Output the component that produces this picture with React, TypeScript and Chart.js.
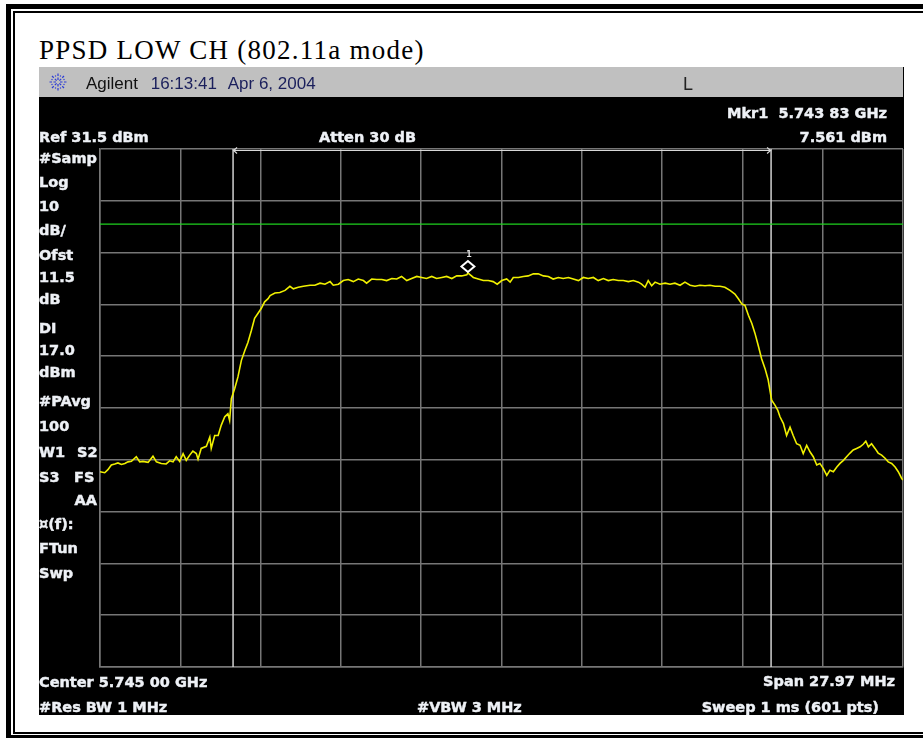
import React, { useEffect, useRef } from "react";
import { Chart, registerables } from "chart.js";

Chart.register(...registerables);

// Analyzer settings
const CENTER_GHZ = 5.745;
const SPAN_MHZ = 27.97;
const REF_LEVEL_DBM = 31.5;
const DB_PER_DIV = 10;
const DIVISIONS = 10;
const DISPLAY_LINE_DBM = 17.0;
const MARKER_GHZ = 5.74383;
const MARKER_LEVEL_DBM = 7.561;
const bandEdgesMHz = [-9.35, 9.39];

// Trace: offset from centre frequency (MHz) and level (dBm)
const freqOffsetMHz = [
  -13.985, -13.82, -13.71, -13.59, -13.47, -13.36, -13.24, -13.12, -13.01, -12.89,
  -12.72, -12.6, -12.49, -12.31, -12.14, -12.02, -11.85, -11.68, -11.56, -11.44,
  -11.33, -11.21, -11.09, -10.98, -10.86, -10.75, -10.63, -10.57, -10.46, -10.28,
  -10.16, -10.11, -9.99, -9.87, -9.76, -9.64, -9.53, -9.47, -9.41, -9.29,
  -9.18, -9.06, -8.94, -8.83, -8.71, -8.6, -8.48, -8.37, -8.25, -8.13,
  -8.06, -7.89, -7.72, -7.54, -7.37, -7.25, -7.08, -6.9, -6.67, -6.5,
  -6.32, -6.15, -5.97, -5.86, -5.68, -5.51, -5.34, -5.16, -4.99, -4.81,
  -4.7, -4.52, -4.35, -4.17, -4.0, -3.82, -3.65, -3.48, -3.3, -3.13,
  -2.95, -2.78, -2.61, -2.43, -2.26, -2.08, -1.91, -1.73, -1.56, -1.39,
  -1.21, -1.17, -0.98, -0.81, -0.63, -0.46, -0.29, -0.15, 0.01, 0.18,
  0.3, 0.41, 0.59, 0.76, 0.93, 1.11, 1.28, 1.46, 1.63, 1.8,
  1.98, 2.15, 2.33, 2.5, 2.68, 2.85, 3.02, 3.2, 3.37, 3.55,
  3.72, 3.89, 4.07, 4.24, 4.42, 4.59, 4.77, 4.88, 5.0, 5.11,
  5.23, 5.35, 5.52, 5.7, 5.87, 6.04, 6.22, 6.39, 6.57, 6.74,
  6.91, 7.09, 7.26, 7.44, 7.61, 7.78, 7.96, 8.13, 8.25, 8.37,
  8.48, 8.6, 8.72, 8.83, 8.94, 9.06, 9.18, 9.29, 9.35, 9.41,
  9.53, 9.62, 9.7, 9.82, 9.93, 10.05, 10.16, 10.28, 10.4, 10.51,
  10.63, 10.75, 10.86, 10.98, 11.09, 11.21, 11.33, 11.44, 11.56, 11.68,
  11.79, 11.91, 12.02, 12.14, 12.25, 12.37, 12.49, 12.6, 12.69, 12.78,
  12.89, 13.01, 13.12, 13.24, 13.36, 13.47, 13.59, 13.71, 13.82, 13.94,
  13.985,
];

const levelDbm = [
  -30.8, -31.0, -30.4, -29.5, -29.3, -29.1, -29.4, -29.2, -28.9, -28.8,
  -27.9, -28.9, -28.8, -29.0, -27.8, -28.9, -29.2, -29.3, -28.7, -28.9,
  -27.9, -28.8, -27.3, -28.6, -27.6, -26.8, -27.3, -28.4, -26.3, -25.9,
  -24.1, -26.3, -23.8, -23.8, -21.8, -20.2, -19.6, -20.9, -16.7, -14.7,
  -12.5, -9.3, -7.4, -5.8, -3.5, -1.2, -0.2, 0.7, 2.0, 2.6,
  3.2, 3.7, 3.8, 4.2, 5.0, 4.5, 4.8, 5.0, 5.2, 5.2,
  5.6, 5.4, 5.9, 5.2, 5.4, 6.1, 6.3, 5.9, 6.4, 6.1,
  5.6, 6.4, 6.3, 6.3, 6.1, 6.5, 6.4, 6.9, 6.1, 6.5,
  6.9, 6.7, 6.5, 6.9, 6.5, 6.7, 6.9, 6.5, 7.0, 7.0,
  7.2, 7.561, 6.7, 6.4, 6.1, 6.1, 5.9, 5.4, 6.1, 6.4,
  5.8, 6.7, 6.7, 6.9, 7.0, 7.4, 7.4, 7.0, 6.9, 6.4,
  6.7, 6.5, 6.7, 6.4, 6.1, 6.7, 6.5, 6.7, 6.1, 6.5,
  6.1, 6.3, 6.1, 6.1, 5.9, 6.1, 5.8, 5.4, 4.8, 6.1,
  5.1, 5.8, 5.4, 5.6, 5.4, 5.6, 5.2, 5.8, 5.2, 5.0,
  5.2, 5.1, 5.2, 5.0, 5.0, 4.8, 4.2, 3.5, 2.6, 1.6,
  1.3, -0.6, -2.2, -4.1, -6.4, -9.0, -10.9, -13.1, -15.1, -17.0,
  -18.0, -18.9, -20.2, -21.5, -23.8, -22.2, -23.8, -25.4, -25.7, -27.3,
  -25.7, -27.0, -27.9, -29.5, -29.2, -30.2, -31.5, -30.5, -30.8, -29.9,
  -29.2, -28.6, -27.9, -27.2, -26.6, -26.3, -26.0, -25.5, -24.9, -26.0,
  -25.4, -26.3, -27.2, -27.6, -28.2, -28.9, -29.2, -29.9, -30.8, -32.1,
  -32.4,
];

// Annotation texts
const title = "PPSD LOW CH (802.11a mode)";
const bannerBrand = "Agilent";
const bannerTime = "16:13:41";
const bannerDate = "Apr 6, 2004";
const bannerFlag = "L";
const markerLines = ["Mkr1  5.743 83 GHz", "7.561 dBm"];
const refLabel = "Ref 31.5 dBm";
const attenLabel = "Atten 30 dB";
const sideLabels = [
  "#Samp", "Log", "10", "dB/", "Ofst", "11.5", "dB", "DI", "17.0", "dBm",
  "#PAvg", "100", "W1", "S3", "¤(f):", "FTun", "Swp",
];
const sidePairs = ["S2", "FS", "AA"];
const footerLeft = ["Center 5.745 00 GHz", "#Res BW 1 MHz"];
const footerMid = "#VBW 3 MHz";
const footerRight = ["Span 27.97 MHz", "Sweep 1 ms (601 pts)"];

// Baselines (canvas px) for the left-hand annotation column
const sideBaselines = [
  95.7, 120, 144, 167.5, 193, 215, 237, 266, 288, 310,
  339, 363.7, 390, 414.7, 462, 486, 510.5,
];

const SCREEN_TEXT = "#eef1f6";
const SCREEN_FONT = 'bold 14.5px "DejaVu Sans"';
const GRID_COLOR = "#767676";

const half = SPAN_MHZ / 2;
const yMax = REF_LEVEL_DBM;
const yMin = REF_LEVEL_DBM - DB_PER_DIV * DIVISIONS;

function divisionTicks(min: number, max: number) {
  return Array.from({ length: DIVISIONS + 1 }, (_, i) => ({
    value: min + (i * (max - min)) / DIVISIONS,
  }));
}

// Bold screen lettering with a hairline outline to give it weight
function screenText(ctx: CanvasRenderingContext2D, text: string, x: number, y: number) {
  ctx.strokeText(text, x, y);
  ctx.fillText(text, x, y);
}

const screenPlugin = {
  id: "analyzerScreen",
  beforeDraw(chart: any) {
    const { ctx, width, height } = chart;
    ctx.save();
    ctx.fillStyle = "#000";
    ctx.fillRect(0, 0, width, height);
    // title bar
    ctx.fillStyle = "#c0c0c0";
    ctx.fillRect(0, 0, width - 1, 30);

    // spark logo
    const cx = 19;
    const cy = 15;
    ctx.strokeStyle = "#2b3bd6";
    ctx.fillStyle = "#2b3bd6";
    ctx.lineWidth = 1.2;
    for (let k = 0; k < 8; k++) {
      const a = (k * Math.PI) / 4;
      const c = Math.cos(a);
      const s = Math.sin(a);
      ctx.beginPath();
      ctx.moveTo(cx + c * 2, cy + s * 2);
      ctx.lineTo(cx + c * 4.5, cy + s * 4.5);
      ctx.moveTo(cx + c * 6, cy + s * 6);
      ctx.lineTo(cx + c * 8.5, cy + s * 8.5);
      ctx.stroke();
      const b = a + Math.PI / 8;
      ctx.fillRect(cx + Math.cos(b) * 6.5 - 0.6, cy + Math.sin(b) * 6.5 - 0.6, 1.2, 1.2);
    }

    ctx.textBaseline = "alphabetic";
    ctx.textAlign = "left";
    ctx.font = '17px "Liberation Sans"';
    ctx.fillStyle = "#111";
    ctx.fillText(bannerBrand, 47, 22.3);
    ctx.fillStyle = "#1a1f5c";
    ctx.fillText(bannerTime, 111.7, 22.3);
    ctx.fillText(bannerDate, 188.7, 22.3);
    ctx.fillStyle = "#222";
    ctx.font = '18px "Liberation Sans"';
    ctx.fillText(bannerFlag, 644, 23);
    ctx.restore();
  },
  afterDraw(chart: any) {
    const { ctx, chartArea, scales } = chart;
    const xs = scales.x;
    const ys = scales.y;
    ctx.save();

    // bandwidth arrow along the top graticule
    const xa = xs.getPixelForValue(bandEdgesMHz[0]);
    const xb = xs.getPixelForValue(bandEdgesMHz[1]);
    const ya = chartArea.top + 1.5;
    ctx.strokeStyle = "#d8d8d8";
    ctx.lineWidth = 1.2;
    ctx.beginPath();
    ctx.moveTo(xa, ya);
    ctx.lineTo(xb, ya);
    ctx.moveTo(xa + 4, ya - 3);
    ctx.lineTo(xa + 0.5, ya);
    ctx.lineTo(xa + 4, ya + 3);
    ctx.moveTo(xb - 4, ya - 3);
    ctx.lineTo(xb - 0.5, ya);
    ctx.lineTo(xb - 4, ya + 3);
    ctx.stroke();

    // marker 1
    const mx = xs.getPixelForValue((MARKER_GHZ - CENTER_GHZ) * 1000);
    const my = ys.getPixelForValue(MARKER_LEVEL_DBM);
    const dy = my - 6.5;
    ctx.beginPath();
    ctx.moveTo(mx, dy - 5.5);
    ctx.lineTo(mx + 6.5, dy);
    ctx.lineTo(mx, dy + 5.5);
    ctx.lineTo(mx - 6.5, dy);
    ctx.closePath();
    ctx.fillStyle = "#000";
    ctx.fill();
    ctx.strokeStyle = "#ffffff";
    ctx.lineWidth = 2;
    ctx.stroke();
    ctx.fillStyle = "#e8e8e8";
    ctx.font = 'bold 9px "DejaVu Sans Mono"';
    ctx.textAlign = "center";
    ctx.fillText("1", mx + 1, dy - 10);

    // screen annotations
    ctx.font = SCREEN_FONT;
    ctx.fillStyle = SCREEN_TEXT;
    ctx.strokeStyle = SCREEN_TEXT;
    ctx.lineWidth = 0.45;
    ctx.textAlign = "right";
    screenText(ctx, markerLines[0], 848, 51);
    screenText(ctx, markerLines[1], 848, 74.7);
    ctx.textAlign = "left";
    screenText(ctx, refLabel, 0, 74.7);
    screenText(ctx, attenLabel, 280, 74.7);

    sideLabels.forEach((t, i) => screenText(ctx, t, 0, sideBaselines[i]));
    screenText(ctx, sidePairs[0], 38, 390);
    screenText(ctx, sidePairs[1], 35, 414.7);
    ctx.textAlign = "right";
    screenText(ctx, sidePairs[2], 58, 438);

    ctx.textAlign = "left";
    screenText(ctx, footerLeft[0], 0, 619.7);
    screenText(ctx, footerLeft[1], 0, 644.5);
    screenText(ctx, footerMid, 378, 644.5);
    ctx.textAlign = "right";
    screenText(ctx, footerRight[0], 856, 619.2);
    screenText(ctx, footerRight[1], 840, 644.5);
    ctx.restore();
  },
};

function AnalyzerChart() {
  const ref = useRef<HTMLCanvasElement | null>(null);

  useEffect(() => {
    if (!ref.current) return;
    const trace = freqOffsetMHz.map((f, i) => ({ x: f, y: levelDbm[i] }));
    const chart = new Chart(ref.current, {
      type: "scatter",
      data: {
        datasets: [
          {
            data: trace,
            showLine: true,
            borderColor: "#f0f000",
            borderWidth: 1.6,
            pointRadius: 0,
            tension: 0,
          },
          {
            data: [
              { x: -half, y: DISPLAY_LINE_DBM },
              { x: half, y: DISPLAY_LINE_DBM },
            ],
            showLine: true,
            borderColor: "#1ed21e",
            borderWidth: 1.3,
            pointRadius: 0,
          },
          ...bandEdgesMHz.map((f) => ({
            data: [
              { x: f, y: yMin },
              { x: f, y: yMax },
            ],
            showLine: true,
            borderColor: "#d0d0d0",
            borderWidth: 1.5,
            pointRadius: 0,
          })),
        ],
      },
      options: {
        animation: false,
        responsive: false,
        devicePixelRatio: 1,
        events: [],
        layout: { padding: { left: 61, right: 1, top: 82, bottom: 48 } },
        plugins: { legend: { display: false }, tooltip: { enabled: false } },
        scales: {
          x: {
            type: "linear",
            min: -half,
            max: half,
            afterBuildTicks: (s: any) => {
              s.ticks = divisionTicks(-half, half);
            },
            ticks: { display: false },
            grid: { color: GRID_COLOR, lineWidth: 1.5, drawTicks: false },
            border: { display: true, color: GRID_COLOR, width: 1.5 },
          },
          y: {
            type: "linear",
            min: yMin,
            max: yMax,
            afterBuildTicks: (s: any) => {
              s.ticks = divisionTicks(yMin, yMax);
            },
            ticks: { display: false },
            grid: { color: GRID_COLOR, lineWidth: 1.5, drawTicks: false },
            border: { display: true, color: GRID_COLOR, width: 1.5 },
          },
        },
      },
      plugins: [screenPlugin],
    } as any);
    return () => chart.destroy();
  }, []);

  return (
    <canvas
      ref={ref}
      width={865}
      height={648}
      style={{ position: "absolute", left: 39, top: 67, width: 865, height: 648 }}
    />
  );
}

export default function App() {
  return (
    <div
      style={{
        position: "absolute",
        left: 0,
        top: 0,
        width: 923,
        height: 738,
        overflow: "hidden",
        background: "#ffffff",
      }}
    >
      <div
        style={{
          position: "absolute",
          left: 6,
          top: 4,
          width: 940,
          height: 736,
          border: "5px solid #000",
          boxSizing: "border-box",
        }}
      />
      <div
        style={{
          position: "absolute",
          left: 13,
          top: 11,
          width: 930,
          height: 723,
          border: "2px solid #000",
          boxSizing: "border-box",
        }}
      />
      <div
        style={{
          position: "absolute",
          left: 39,
          top: 37.4,
          font: '27px "Liberation Serif"',
          lineHeight: "27px",
          letterSpacing: "1.25px",
          whiteSpace: "nowrap",
          color: "#000",
        }}
      >
        {title}
      </div>
      <AnalyzerChart />
    </div>
  );
}
